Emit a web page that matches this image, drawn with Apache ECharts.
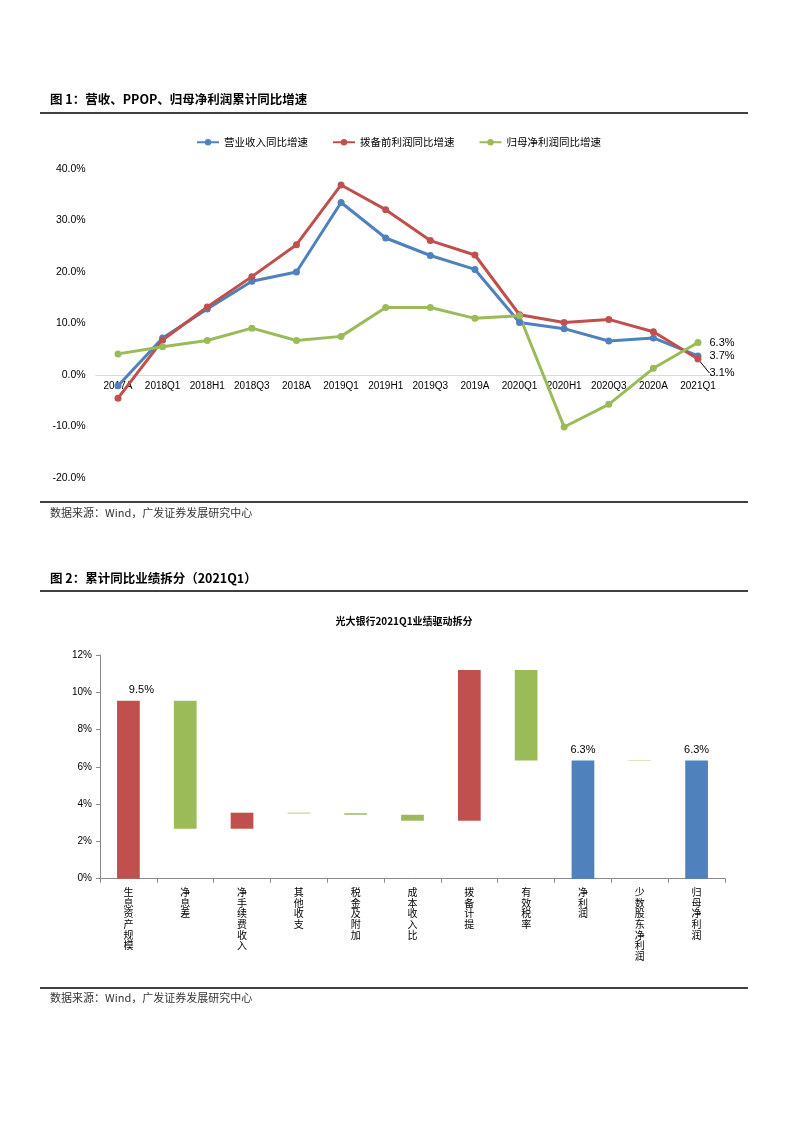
<!DOCTYPE html>
<html>
<head>
<meta charset="utf-8">
<script src="https://cdn.jsdelivr.net/npm/echarts@6/dist/echarts.min.js"></script>
<style>
html,body{margin:0;padding:0;background:#fff;}
#c{width:793px;height:1122px;}
</style>
</head>
<body>
<div id="c"></div>
<script>
// ---- Figure 1 data ----
const categories = ['2017A','2018Q1','2018H1','2018Q3','2018A','2019Q1','2019H1','2019Q3','2019A','2020Q1','2020H1','2020Q3','2020A','2021Q1'];
const revenueGrowth = [-2.1, 7.2, 12.8, 18.2, 20.0, 33.5, 26.6, 23.2, 20.5, 10.2, 9.0, 6.6, 7.2, 3.7];
const ppopGrowth = [-4.5, 6.8, 13.2, 19.1, 25.3, 36.9, 32.1, 26.1, 23.3, 11.7, 10.2, 10.8, 8.4, 3.1];
const netProfitGrowth = [4.1, 5.5, 6.7, 9.1, 6.7, 7.5, 13.1, 13.1, 11.0, 11.5, -10.1, -5.7, 1.3, 6.3];
const seriesNames = ['营业收入同比增速', '拨备前利润同比增速', '归母净利润同比增速'];

// ---- Figure 2 data ----
const driverCategories = ['生息资产规模','净息差','净手续费收入','其他收支','税金及附加','成本收入比','拨备计提','有效税率','净利润','少数股东净利润','归母净利润'];
const barBottom = [0, 2.68, 2.68, 3.50, 3.43, 3.11, 3.11, 6.34, 0, 6.32, 0];
const barTop    = [9.54, 9.54, 3.54, 3.54, 3.51, 3.43, 11.2, 11.2, 6.34, 6.34, 6.34];
const barEffect = ['pos','neg','pos','neg','neg','neg','pos','neg','total','neg','total'];
const labelledBars = [0, 8, 10];

const C_BLUE = '#4F81BD', C_RED = '#C0504D', C_GREEN = '#9BBB59';
const effectColor = {pos: C_RED, neg: C_GREEN, total: C_BLUE};
const LATIN = 'Arial, "Liberation Sans", "Noto Sans CJK SC", sans-serif';
const CJK = '"Noto Sans CJK SC", sans-serif';

// geometry of top plot
const TOP_Y = 169, BOT_Y = 478, Y_MIN = -20, Y_MAX = 40;
const zeroOffset = (BOT_Y - TOP_Y) * (0 - Y_MIN) / (Y_MAX - Y_MIN);

function lineSeries(name, values, color, labelDy) {
  const last = values.length - 1;
  return {
    name: name, type: 'line', xAxisIndex: 0, yAxisIndex: 0,
    data: values.map((v, i) => i !== last ? v : {
      value: v,
      label: {
        show: true, position: 'right', distance: 8,
        formatter: p => p.value.toFixed(1) + '%',
        fontSize: 11, color: '#000', fontFamily: LATIN
      }
    }),
    labelLayout: labelDy ? (p => p.dataIndex === last ? {dy: labelDy} : {}) : undefined,
    labelLine: labelDy ? {show: true, lineStyle: {color: '#000', width: 1}} : undefined,
    symbol: 'circle', symbolSize: 7,
    lineStyle: {width: 3, color: color},
    itemStyle: {color: color},
    emphasis: {disabled: true},
    animation: false
  };
}

const chart = echarts.init(document.getElementById('c'), null, {renderer: 'canvas'});

const option = {
  backgroundColor: '#fff',
  animation: false,
  textStyle: {fontFamily: LATIN},
  legend: {
    data: seriesNames,
    top: 132, left: 191,
    itemWidth: 22, itemHeight: 8, itemGap: 24,
    textStyle: {fontSize: 10.5, color: '#000', fontFamily: CJK}
  },
  grid: [
    {left: 95.7, width: 624.6, top: TOP_Y, height: BOT_Y - TOP_Y},
    {left: 100, width: 625, top: 655, height: 223.7}
  ],
  xAxis: [
    {
      gridIndex: 0, type: 'category', data: categories,
      position: 'bottom', offset: -zeroOffset,
      axisLine: {show: true, onZero: false, lineStyle: {color: '#D9D9D9', width: 1}},
      axisTick: {show: false},
      axisLabel: {fontSize: 10, color: '#000', margin: 6, interval: 0, fontFamily: LATIN},
      splitLine: {show: false}
    },
    {
      gridIndex: 1, type: 'category', data: driverCategories,
      axisLine: {show: true, lineStyle: {color: '#898989', width: 1}},
      axisTick: {show: true, length: 4, lineStyle: {color: '#898989'}},
      axisLabel: {
        interval: 0, fontSize: 10, lineHeight: 10.7, color: '#000', margin: 8,
        verticalAlign: 'top', fontFamily: CJK,
        formatter: v => v.split('').join('\n')
      }
    }
  ],
  yAxis: [
    {
      gridIndex: 0, type: 'value', min: Y_MIN, max: Y_MAX, interval: 10,
      axisLine: {show: false}, axisTick: {show: false}, splitLine: {show: false},
      axisLabel: {fontSize: 10.5, color: '#000', margin: 10, formatter: v => v.toFixed(1) + '%', fontFamily: LATIN}
    },
    {
      gridIndex: 1, type: 'value', min: 0, max: 12, interval: 2,
      axisLine: {show: true, lineStyle: {color: '#898989', width: 1}},
      axisTick: {show: true, length: 4, lineStyle: {color: '#898989'}},
      splitLine: {show: false},
      axisLabel: {fontSize: 10, color: '#000', margin: 8, formatter: v => v + '%', fontFamily: LATIN}
    }
  ],
  series: [
    lineSeries(seriesNames[0], revenueGrowth, C_BLUE, 0),
    lineSeries(seriesNames[1], ppopGrowth, C_RED, 14),
    lineSeries(seriesNames[2], netProfitGrowth, C_GREEN, 0),
    {
      type: 'bar', xAxisIndex: 1, yAxisIndex: 1, stack: 'wf',
      data: barBottom,
      itemStyle: {color: 'rgba(0,0,0,0)'},
      barWidth: '40%', silent: true, animation: false
    },
    {
      type: 'bar', xAxisIndex: 1, yAxisIndex: 1, stack: 'wf',
      barWidth: '40%', animation: false,
      data: barTop.map((t, i) => ({
        value: +(t - barBottom[i]).toFixed(4),
        itemStyle: {color: effectColor[barEffect[i]]},
        label: labelledBars.includes(i) ? {
          show: true, position: 'top', distance: 5,
          offset: i === 0 ? [13, 0] : [0, 0],
          formatter: () => barTop[i].toFixed(1) + '%',
          fontSize: 11, color: '#000', fontFamily: LATIN
        } : {show: false}
      }))
    }
  ],
  graphic: [
    {type: 'text', left: 50, top: 93, style: {text: '图 1：营收、PPOP、归母净利润累计同比增速', font: 'bold 12.5px "Noto Sans CJK SC", sans-serif', fill: '#000'}},
    {type: 'line', shape: {x1: 40, y1: 113, x2: 748, y2: 113}, style: {stroke: '#000', lineWidth: 1.3}},
    {type: 'line', shape: {x1: 40, y1: 502, x2: 748, y2: 502}, style: {stroke: '#000', lineWidth: 1.3}},
    {type: 'text', left: 50, top: 507, style: {text: '数据来源：Wind，广发证券发展研究中心', font: '11px "Noto Sans CJK SC", sans-serif', fill: '#333'}},
    {type: 'text', left: 50, top: 572, style: {text: '图 2：累计同比业绩拆分（2021Q1）', font: 'bold 12.5px "Noto Sans CJK SC", sans-serif', fill: '#000'}},
    {type: 'line', shape: {x1: 40, y1: 591, x2: 748, y2: 591}, style: {stroke: '#000', lineWidth: 1.3}},
    {type: 'text', x: 404, y: 621, style: {text: '光大银行2021Q1业绩驱动拆分', font: 'bold 10px "Noto Sans CJK SC", sans-serif', fill: '#000', align: 'center', verticalAlign: 'middle'}},
    {type: 'line', shape: {x1: 40, y1: 988, x2: 748, y2: 988}, style: {stroke: '#000', lineWidth: 1.3}},
    {type: 'text', left: 50, top: 992, style: {text: '数据来源：Wind，广发证券发展研究中心', font: '11px "Noto Sans CJK SC", sans-serif', fill: '#333'}}
  ]
};
chart.setOption(option);
</script>
</body>
</html>
